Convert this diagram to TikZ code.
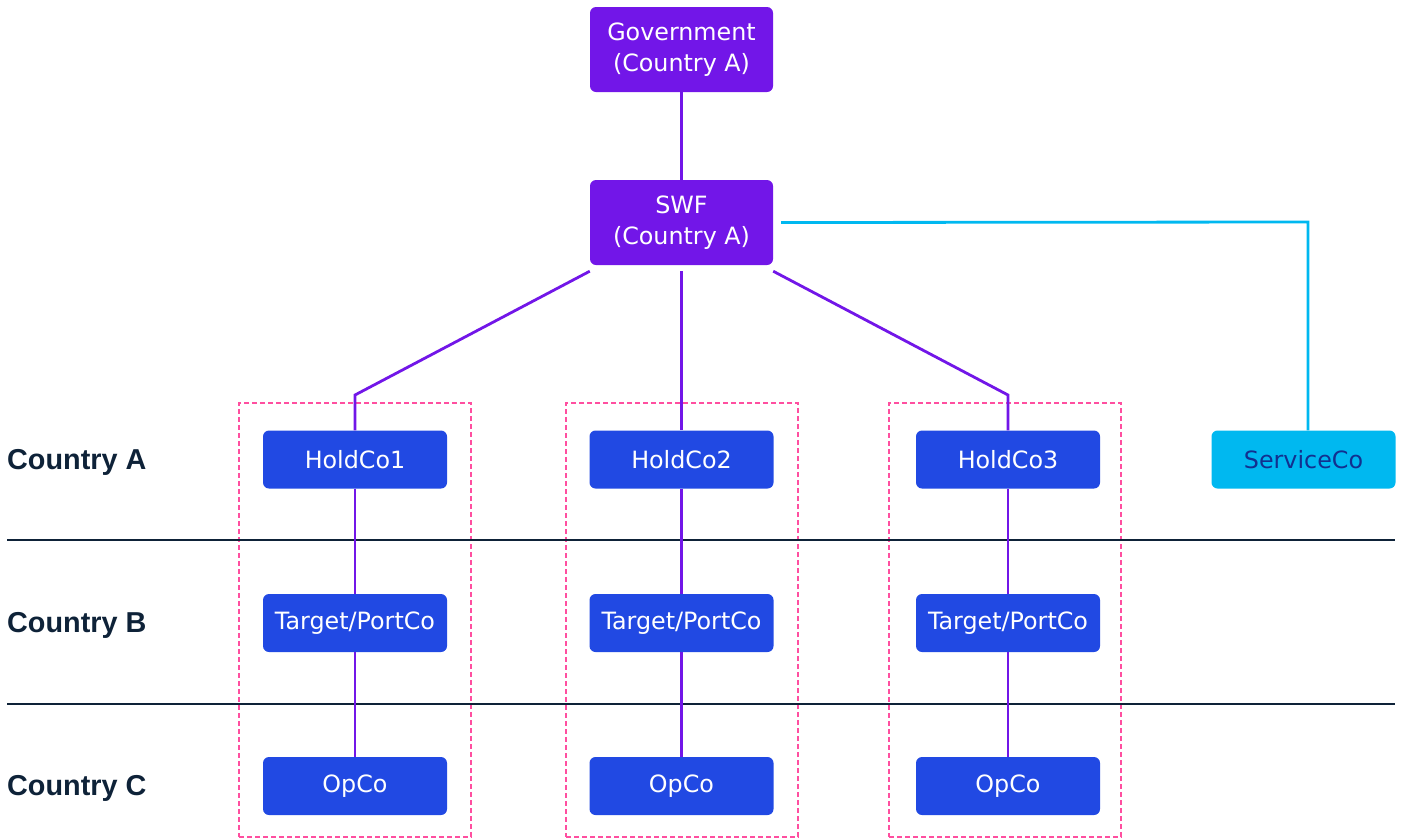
\documentclass[tikz,border=0pt]{standalone}
\usepackage{fontspec}
\setmainfont{DejaVu Sans}
\newfontfamily\labfont{Liberation Sans}
\definecolor{purp}{HTML}{7216E8}
\definecolor{blu}{HTML}{2149E3}
\definecolor{cyn}{HTML}{00B8F0}
\definecolor{navy}{HTML}{0E2238}
\definecolor{svtext}{HTML}{12308F}
\definecolor{pinkd}{HTML}{FF4FA0}
\begin{document}
\begin{tikzpicture}[x=1pt,y=-1pt,
  box/.style={rectangle,rounded corners=6pt,minimum width=184pt,minimum height=58pt,inner sep=0pt,
    text=white,font=\fontsize{23.8}{31}\selectfont,align=center},
  topbox/.style={box,fill=purp,minimum width=183pt,minimum height=85pt},
  cobox/.style={box,fill=blu},
  svbox/.style={box,fill=cyn,text=svtext},
  grp/.style={rectangle,draw=pinkd,line width=1.2pt,dash pattern=on 5pt off 3pt,minimum width=232pt,minimum height=434pt,inner sep=0pt},
  conn/.style={draw=purp,line width=2.8pt},
  sconn/.style={draw=cyn,line width=2.8pt},
  sep/.style={draw=navy,line width=1.3pt},
  lab/.style={anchor=base west,inner sep=0pt,text=navy,font=\labfont\bfseries\fontsize{28.8}{32}\selectfont}
]
\useasboundingbox (0,0) rectangle (1401,839);

% group frames
\node[grp] (g1) at (355,620) {};
\node[grp] (g2) at (682,620) {};
\node[grp] (g3) at (1005,620) {};

% separators
\coordinate (s1l) at (7,540); \coordinate (s1r) at (1395,540);
\coordinate (s2l) at (7,704); \coordinate (s2r) at (1395,704);
\draw[sep] (s1l) -- (s1r);
\draw[sep] (s2l) -- (s2r);

% labels
\node[lab] (la) at (7,469) {Country A};
\node[lab] (lb) at (7,632) {Country B};
\node[lab] (lc) at (7,795) {Country C};

% boxes
\node[topbox] (gov) at (681.5,49.5) {Government\\(Country A)};
\node[topbox] (swf) at (681.5,222.5) {SWF\\(Country A)};

\node[cobox] (h1) at (355,459.5) {HoldCo1};
\node[cobox] (h2) at (681.5,459.5) {HoldCo2};
\node[cobox] (h3) at (1008,459.5) {HoldCo3};
\node[svbox] (sv) at (1303.5,459.5) {ServiceCo};

\node[cobox] (t1) at (355,623) {Target/PortCo};
\node[cobox] (t2) at (681.5,623) {Target/PortCo};
\node[cobox] (t3) at (1008,623) {Target/PortCo};

\node[cobox] (o1) at (355,786) {OpCo};
\node[cobox] (o2) at (681.5,786) {OpCo};
\node[cobox] (o3) at (1008,786) {OpCo};

% connectors
\coordinate (b1) at (355,395);
\coordinate (b3) at (1008,395);
\coordinate (bs) at (1308,222);
\draw[conn] (gov.south) -- (swf.north);
\draw[conn] ([yshift=-6pt]swf.south west) -- (b1) -- (h1.north);
\draw[conn] ([yshift=-6pt]swf.south) -- (h2.north);
\draw[conn] ([yshift=-6pt]swf.south east) -- (b3) -- (h3.north);
\draw[sconn] ([xshift=8pt]swf.east) -- (bs) -- (bs |- sv.north);

\draw[conn] (h1.south) -- (t1.north);
\draw[conn] (t1.south) -- (o1.north);
\draw[conn] (h2.south) -- (t2.north);
\draw[conn] (t2.south) -- (o2.north);
\draw[conn] (h3.south) -- (t3.north);
\draw[conn] (t3.south) -- (o3.north);
\end{tikzpicture}
\end{document}
